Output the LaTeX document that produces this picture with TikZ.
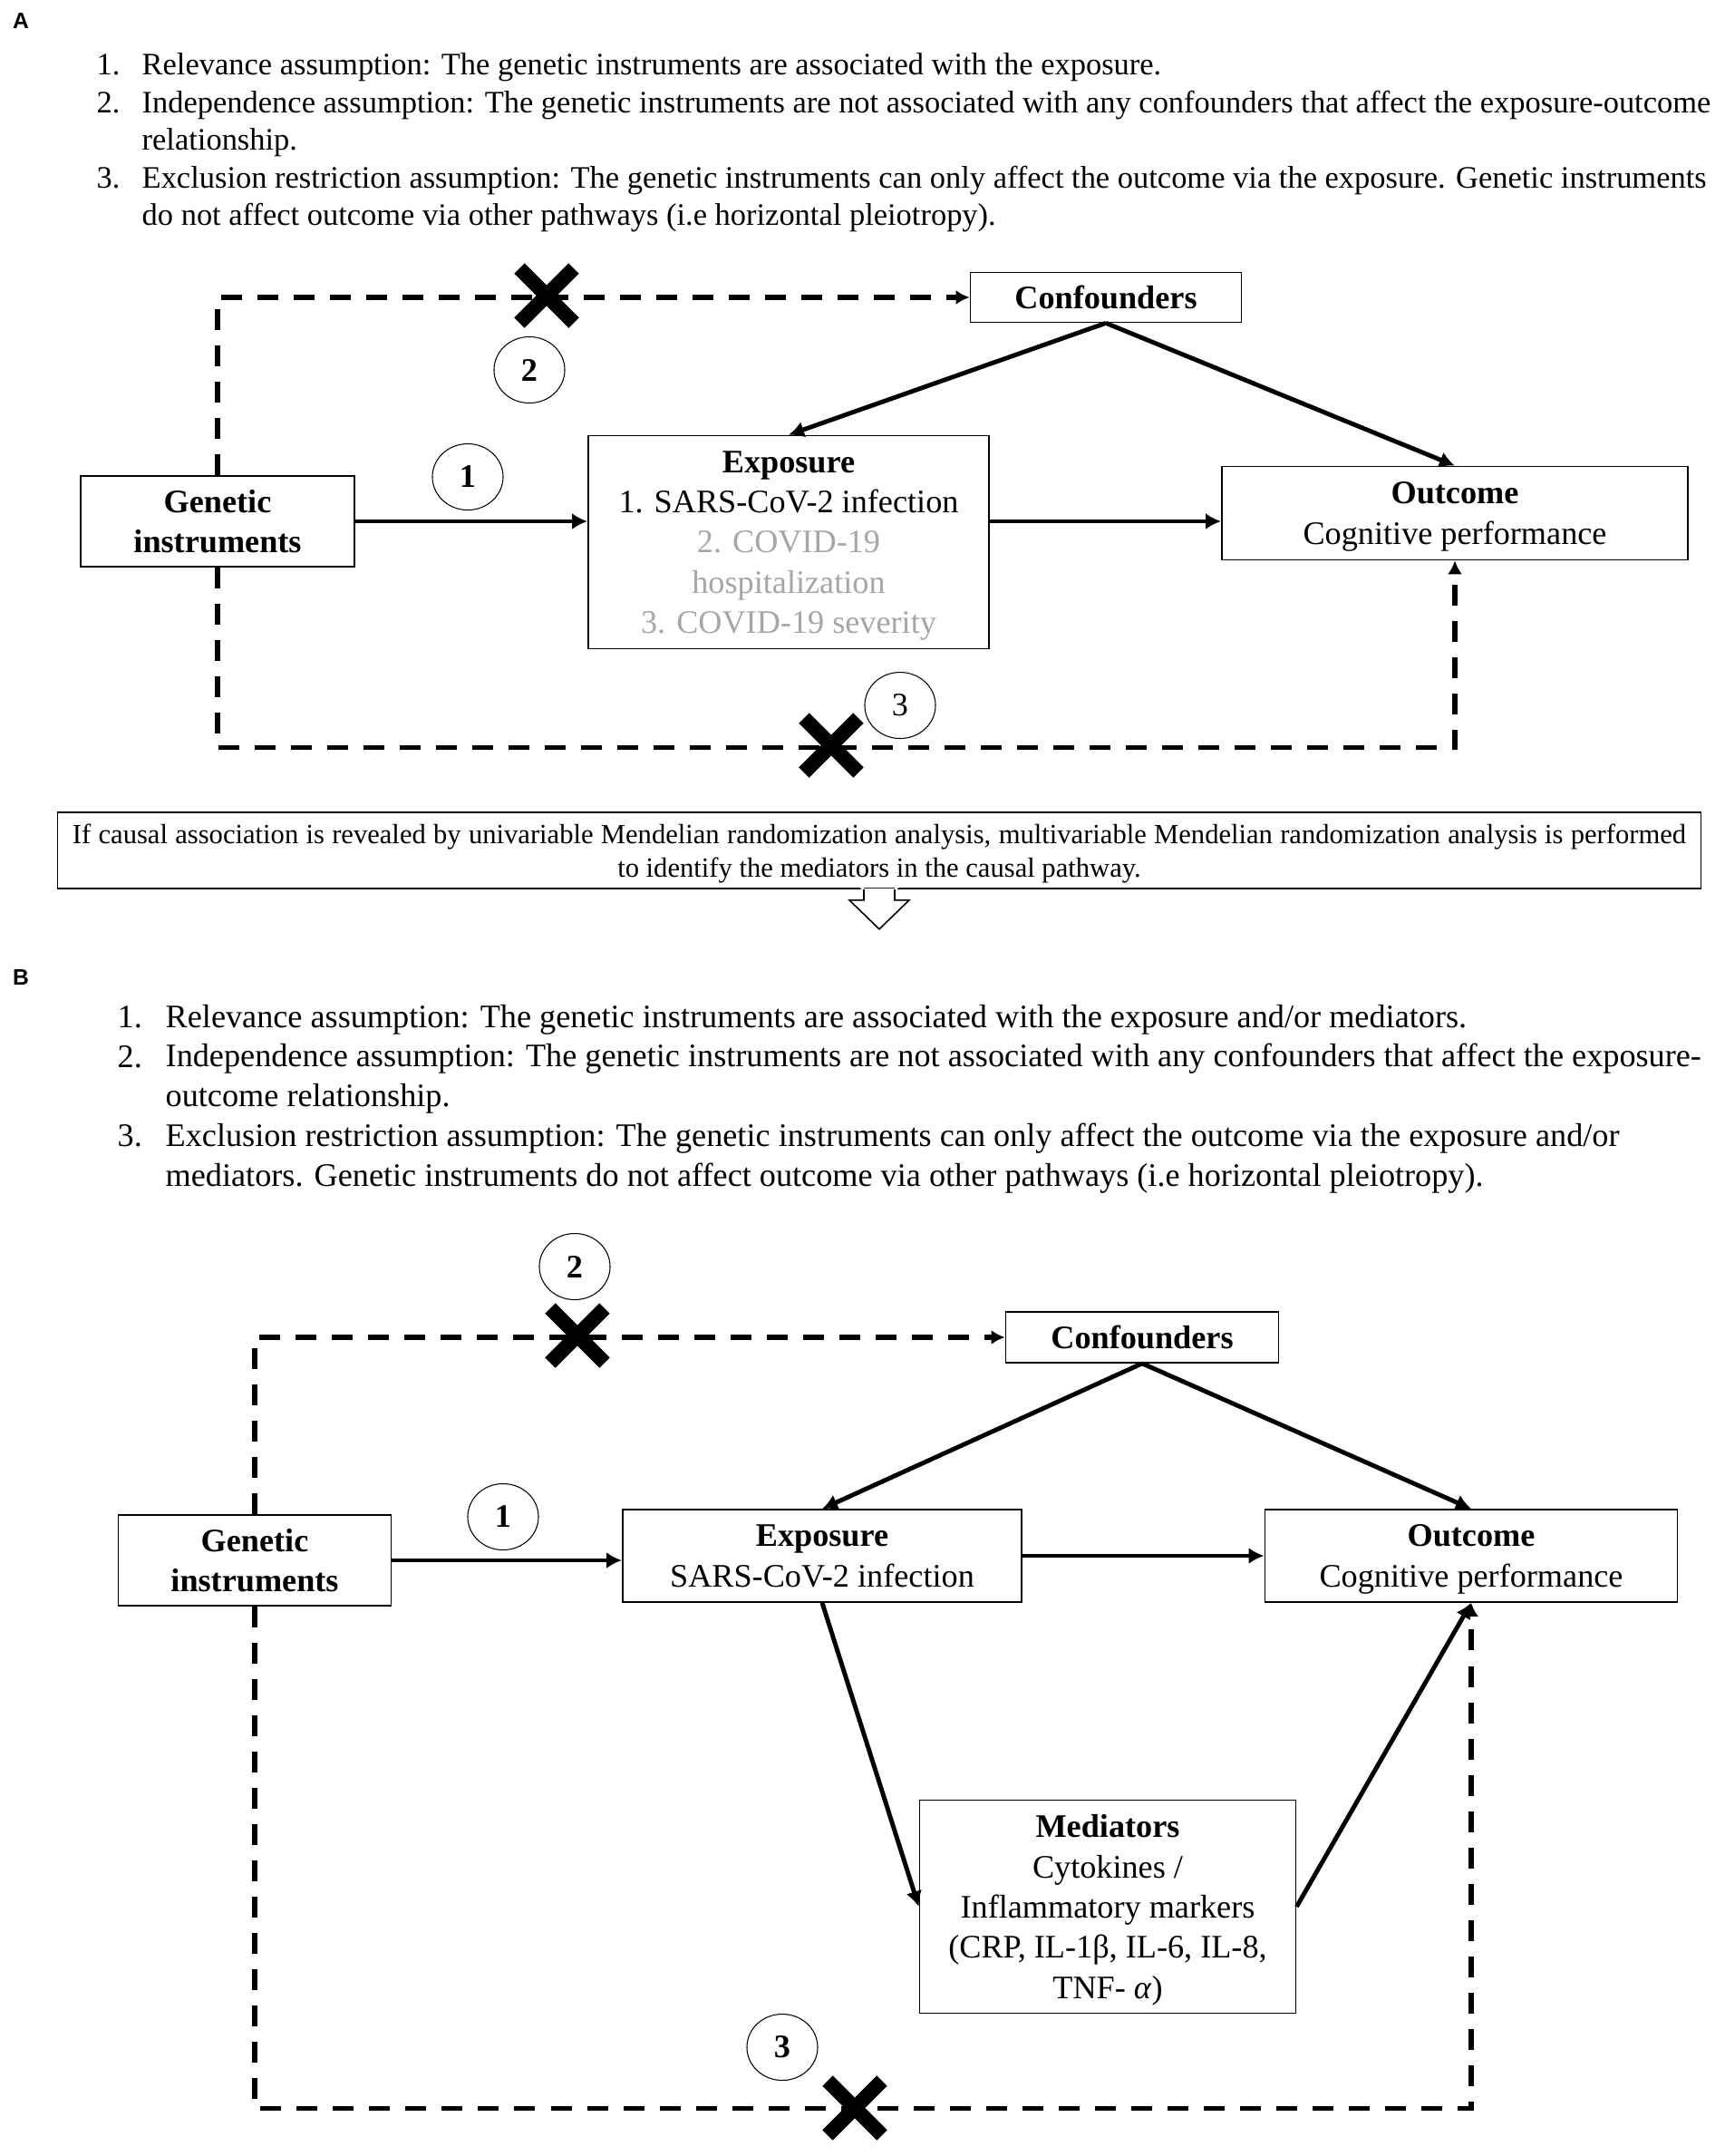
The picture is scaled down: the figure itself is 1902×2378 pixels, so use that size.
\documentclass[tikz,border=0pt]{standalone}
\usepackage{fontspec}
\setmainfont{Liberation Serif}
\newfontfamily\labelfont{Liberation Sans}
\usetikzlibrary{arrows.meta,shapes.geometric}
\definecolor{greytext}{HTML}{A6A6A6}
\tikzset{
  bx/.style 2 args={draw, line width=0.45pt, minimum width=#1, minimum height=#2, inner sep=0pt, text depth=0pt, align=center, font=\fontsize{10.3}{12.6}\selectfont},
  solidarr/.style={line width=1.4pt, -{Latex[length=0.17cm,width=0.18cm]}},
  dsh/.style={line width=1.5pt, dash pattern=on 0.23cm off 0.17cm},
  dsharr/.style={dsh, -{Latex[length=0.15cm,width=0.16cm]}},
  numcirc/.style={draw, ellipse, line width=0.3pt, minimum width=0.78cm, minimum height=0.73cm, inner sep=0pt, font=\fontsize{10.3}{12}\selectfont},
  xmark/.style={line width=0.16cm},
  panellabel/.style={font=\labelfont\bfseries\fontsize{7}{8}\selectfont, inner sep=0pt},
  listA/.style={anchor=base west, inner sep=0pt, align=left, font=\fontsize{9.8}{11.8}\selectfont},
  listB/.style={anchor=base west, inner sep=0pt, align=left, font=\fontsize{10.3}{12.4}\selectfont},
}
\begin{document}
\begin{tikzpicture}[x=0.01cm,y=-0.01cm]
\useasboundingbox (0,0) rectangle (1902,2378);

% ---------------- Panel A ----------------
\node[panellabel] (labA) at (23,23) {A};
\node[listA] (a1n) at (106,82.5) {1.};
\node[listA] (a1t) at (156,82.5) {Relevance assumption: The genetic instruments are associated with the exposure.};
\node[listA] (a2n) at (106,124) {2.};
\node[listA] (a2t) at (156,165.5) {Independence assumption: The genetic instruments are not associated with any confounders that affect the exposure-outcome\\relationship.};
\node[listA] (a3n) at (106,207) {3.};
\node[listA] (a3t) at (156,248.5) {Exclusion restriction assumption: The genetic instruments can only affect the outcome via the exposure. Genetic instruments\\do not affect outcome via other pathways (i.e horizontal pleiotropy).};

\node[bx={2.99cm}{0.55cm}] (confA) at (1220,328) {\bfseries Confounders};
\node[bx={3.02cm}{1.00cm}] (giA) at (240,575) {\bfseries Genetic\\\bfseries instruments};
\node[bx={4.42cm}{2.35cm}] (expA) at (870,598) {\bfseries Exposure\\1. SARS-CoV-2 infection\\\textcolor{greytext}{2. COVID-19}\\\textcolor{greytext}{hospitalization}\\\textcolor{greytext}{3. COVID-19 severity}};
\node[bx={5.14cm}{1.03cm}] (outA) at (1605,566) {\bfseries Outcome\\Cognitive performance};

\node[numcirc] (c1A) at (516,526) {\bfseries 1};
\node[numcirc] (c2A) at (584,408) {\bfseries 2};
\node[numcirc] (c3A) at (993,778) {3};

\draw[solidarr] (giA.east) -- (giA.east -| expA.west);
\draw[solidarr] (expA.east |- giA.east) -- (outA.west |- giA.east);
\draw[solidarr] (confA.south) -- (expA.north);
\draw[solidarr] (confA.south) -- (outA.north);
\draw[dsharr] (giA.north) |- (confA.west);
\draw[dsharr] (giA.south) -- ++(0,199) -| (outA.south);

\draw[xmark] (573,296) -- (633,356) (633,296) -- (573,356);
\draw[xmark] (887,792) -- (947,852) (947,792) -- (887,852);

% middle box
\node[draw, line width=0.45pt, minimum width=18.12cm, minimum height=0.84cm, inner sep=0pt, text depth=0pt, align=center, font=\fontsize{8.7}{10.6}\selectfont] (mid) at (970,938)
  {\makebox[17.79cm][s]{If causal association is revealed by univariable Mendelian randomization analysis, multivariable Mendelian randomization analysis is performed}\\to identify the mediators in the causal pathway.};
\fill[white] ([xshift=-0.17cm,yshift=0.01cm]mid.south) -- ++(0,-12) -- ++(-16,0) -- ++(33,32) -- ++(33,-32) -- ++(-16,0) -- ++(0,12) -- cycle;
\draw[line width=0.45pt] ([xshift=-0.17cm]mid.south) -- ++(0,12) -- ++(-16,0) -- ++(33,32) -- ++(33,-32) -- ++(-16,0) -- ++(0,-12);

% ---------------- Panel B ----------------
\node[panellabel] (labB) at (23,1078) {B};
\node[listB] (b1n) at (129,1133.5) {1.};
\node[listB] (b1t) at (182,1133.5) {Relevance assumption: The genetic instruments are associated with the exposure and/or mediators.};
\node[listB] (b2n) at (129,1177.5) {2.};
\node[listB] (b2t) at (182,1220.5) {Independence assumption: The genetic instruments are not associated with any confounders that affect the exposure-\\outcome relationship.};
\node[listB] (b3n) at (129,1264.5) {3.};
\node[listB] (b3t) at (182,1308.5) {Exclusion restriction assumption: The genetic instruments can only affect the outcome via the exposure and/or\\mediators. Genetic instruments do not affect outcome via other pathways (i.e horizontal pleiotropy).};

\node[bx={3.01cm}{0.56cm}] (confB) at (1260,1475) {\bfseries Confounders};
\node[bx={3.01cm}{1.00cm}] (giB) at (281,1721) {\bfseries Genetic\\\bfseries instruments};
\node[bx={4.40cm}{1.02cm}] (expB) at (907,1716) {\bfseries Exposure\\SARS-CoV-2 infection};
\node[bx={4.55cm}{1.02cm}] (outB) at (1623,1716) {\bfseries Outcome\\Cognitive performance};
\node[bx={4.15cm}{2.35cm}] (medB) at (1222,2103) {\bfseries Mediators\\Cytokines /\\Inflammatory markers\\(CRP, IL-1β, IL-6, IL-8,\\TNF- \textit{α})};

\node[numcirc] (c2B) at (634,1397) {\bfseries 2};
\node[numcirc] (c1B) at (555,1673) {\bfseries 1};
\node[numcirc] (c3B) at (863,2258) {\bfseries 3};

\draw[solidarr] (giB.east) -- (giB.east -| expB.west);
\draw[solidarr] (expB.east) -- (outB.west);
\draw[solidarr] (confB.south) -- (expB.north);
\draw[solidarr] (confB.south) -- (outB.north);
\draw[solidarr] (expB.south) -- (medB.west);
\draw[solidarr] (medB.east) -- (outB.south);
\draw[dsharr] (giB.north) |- (confB.west);
\draw[dsharr] (giB.south) -- ++(0,554) -| (outB.south);

\draw[xmark] (607,1443) -- (667,1503) (667,1443) -- (607,1503);
\draw[xmark] (913,2295) -- (973,2355) (973,2295) -- (913,2355);
\end{tikzpicture}
\end{document}
